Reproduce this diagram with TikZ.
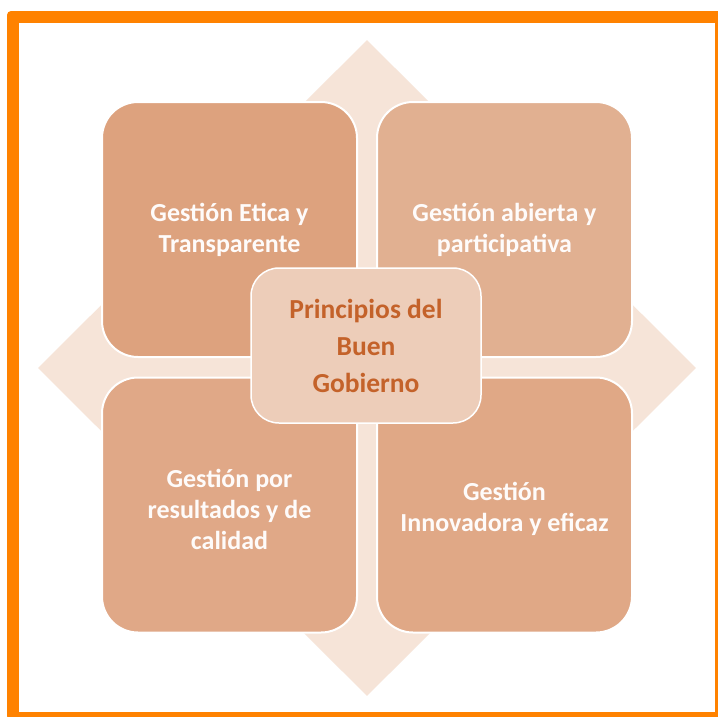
\documentclass[tikz,border=0pt]{standalone}
\usepackage{fontspec}
\setmainfont{Carlito}
\usepackage{xcolor}
\usetikzlibrary{positioning, shapes.geometric}
\definecolor{frameorange}{RGB}{255,130,0}
\definecolor{diamondfill}{RGB}{246,228,216}
\definecolor{boxA}{RGB}{221,162,126}
\definecolor{boxB}{RGB}{225,176,145}
\definecolor{boxC}{RGB}{224,168,135}
\definecolor{boxD}{RGB}{224,168,134}
\definecolor{hubfill}{RGB}{237,205,185}
\definecolor{hubtext}{RGB}{196,98,42}
\tikzset{
    quadbox/.style={rectangle, rounded corners=36pt, draw=white, line width=2pt, align=center,
        minimum width=255pt, minimum height=255pt, inner sep=0pt, text=white!96!boxA,
        font=\fontsize{26}{31}\selectfont\bfseries},
    hubbox/.style={rectangle, rounded corners=28pt, draw=white, line width=1.5pt, align=center,
        fill=hubfill, minimum width=230pt, minimum height=155pt, inner sep=0pt, text=hubtext,
        font=\fontsize{27.5}{37}\selectfont\bfseries},
    arrows4/.style={diamond, fill=diamondfill, inner sep=0pt, minimum width=658pt, minimum height=656pt},
}

\begin{document}
\begin{tikzpicture}[x=1pt, y=-1pt]
    \useasboundingbox (0,0) rectangle (718,716);
    % frame
    \fill[frameorange, rounded corners=4pt] (7,11) rectangle (722,720);
    \fill[white] (19,23) rectangle (715,712);
    % background arrows
    \node[arrows4] (cross) at (367,368) {};
    % quadrants
    \node[quadbox, fill=boxA] (etica) at (229.5,229.5) {Gestión Etica y\\Transparente};
    \node[quadbox, fill=boxB] (abierta) at (504.5,229.5) {Gestión abierta y\\participativa};
    \node[quadbox, fill=boxC] (resultados) at (229.5,505) {\\[-4pt]Gestión por\\resultados y de\\calidad};
    \node[quadbox, fill=boxD] (innova) at (504.5,505) {\\[-4pt]Gestión\\Innovadora y eficaz};
    % center
    \node[hubbox] (hub) at (366,345.5) {Principios del\\Buen\\Gobierno};
\end{tikzpicture}
\end{document}
